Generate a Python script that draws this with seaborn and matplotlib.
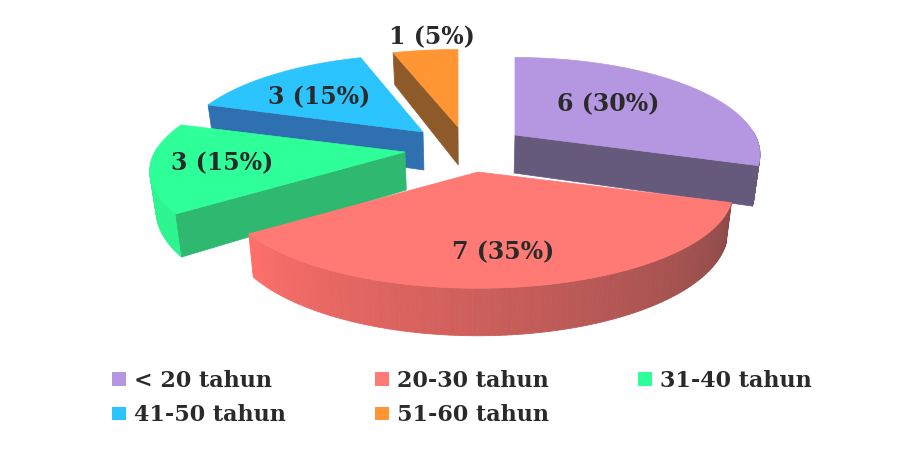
import numpy as np
import matplotlib
matplotlib.use("Agg")
import matplotlib.pyplot as plt
from matplotlib.collections import PolyCollection
from matplotlib.colors import to_rgb
from matplotlib.patches import Patch, Polygon
import seaborn as sns

# Age groups and respondent counts
categories = ["< 20 tahun", "20-30 tahun", "31-40 tahun", "41-50 tahun", "51-60 tahun"]
counts = [6, 7, 3, 3, 1]

# Slice colours: top face, cut face, outer rim start and end
top_colors = sns.color_palette(["#b497e0", "#ff7a75", "#2eff99", "#2cc4ff", "#ff9633"])
cut_colors = ["#665a7c", "#8a4a48", "#2fb870", "#2f70b0", "#8f5a2a"]
rim_colors = [("#665a7c", "#665a7c"), ("#8a4a48", "#ff6f6a"), ("#2ef590", "#2ef590"),
              ("#2f70b0", "#2f70b0"), ("#8f5a2a", "#8f5a2a")]

# Layout of the exploded pie, in pixels
apexes = [(515, 135), (478, 172), (405, 152), (423, 132), (458, 127)]
x_stretch = [0.96, 1.0, 1.0, 0.96, 1.0]
label_xy = [(608, 104), (503, 252), (222, 163), (319, 97), (432, 37)]
RADIUS_X, RADIUS_Y, PERSPECTIVE, THICKNESS = 250, 93, 0.2, 38
VANISH_X, BASE_SHRINK = 470, 0.98
cut_edge = ["end", None, "start", "start", "start"]
draw_order = [4, 3, 2, 0, 1]
TEXT_FONT = {"family": "DejaVu Serif", "weight": "bold"}

sns.set_theme(style="white")
plt.rcParams["font.family"] = ["DejaVu Serif"]

fig = plt.figure(figsize=(8.99, 4.55), dpi=100)
ax = fig.add_axes([0, 0, 1, 1])
ax.set_xlim(0, 899)
ax.set_ylim(455, 0)
ax.axis("off")


def top_point(apex, theta, stretch):
    scale = 1 / (1 + PERSPECTIVE * np.cos(theta))
    return (apex[0] + RADIUS_X * stretch * scale * np.sin(theta),
            apex[1] - RADIUS_Y * scale * np.cos(theta))


def base_point(point, theta):
    scale = 1 / (1 + PERSPECTIVE * np.cos(theta))
    return (VANISH_X + (point[0] - VANISH_X) * BASE_SHRINK, point[1] + THICKNESS * scale)


fractions = np.array(counts) / sum(counts)
edges = np.concatenate([[0], np.cumsum(fractions)]) * 2 * np.pi

for i in draw_order:
    apex, stretch = apexes[i], x_stretch[i]
    start, end = edges[i], edges[i + 1]
    thetas = np.linspace(start, end, 120)
    arc = np.array([top_point(apex, t, stretch) for t in thetas])
    layer = draw_order.index(i) * 3

    # Outer rim, shaded across the arc
    front = thetas[(np.cos(thetas) < 0.05)]
    if len(front) > 1:
        c0, c1 = (np.array(to_rgb(c)) for c in rim_colors[i])
        quads, shades = [], []
        for a, b in zip(front[:-1], front[1:]):
            pa, pb = top_point(apex, a, stretch), top_point(apex, b, stretch)
            quads.append([pa, pb, base_point(pb, b), base_point(pa, a)])
            mix = (a - front[0]) / (front[-1] - front[0])
            shades.append(c0 + (c1 - c0) * mix)
        ax.add_collection(PolyCollection(quads, facecolors=shades, edgecolors=shades,
                                         linewidths=0.6, zorder=layer + 1))

    # Cut face visible from the front
    if cut_edge[i]:
        theta = end if cut_edge[i] == "end" else start
        outer = top_point(apex, theta, stretch)
        apex_low = base_point(apex, np.pi / 2)
        face = [apex, outer, base_point(outer, theta), apex_low]
        ax.add_patch(Polygon(face, closed=True, facecolor=cut_colors[i], edgecolor=cut_colors[i],
                             linewidth=0.5, zorder=layer + 1))

    # Top face of the slice
    ax.add_patch(Polygon(np.vstack([[apex], arc]), closed=True, facecolor=top_colors[i],
                         edgecolor=top_colors[i], linewidth=0.5, zorder=layer + 2))

# Value labels
for n, frac, (x, y) in zip(counts, fractions, label_xy):
    ax.text(x, y, f"{n} ({frac * 100:.0f}%)", ha="center", va="center", fontsize=17,
            color="#2a2a2a", zorder=30, **TEXT_FONT)

# Legend in three columns, filled row by row
handles = [Patch(facecolor=c, edgecolor="none", label=lab) for c, lab in zip(top_colors, categories)]
order = [0, 3, 1, 4, 2]
ax.legend([handles[k] for k in order], [categories[k] for k in order], ncol=3,
          loc="upper left", bbox_to_anchor=(112 / 899, 1 - 370 / 455), frameon=False,
          prop={**TEXT_FONT, "size": 16},
          labelcolor="#2a2a2a", handlelength=0.63, handleheight=0.55, handletextpad=0.36,
          columnspacing=4.0, labelspacing=0.55, borderpad=0, borderaxespad=0)

fig.savefig("out.png", dpi=100, facecolor="white")
